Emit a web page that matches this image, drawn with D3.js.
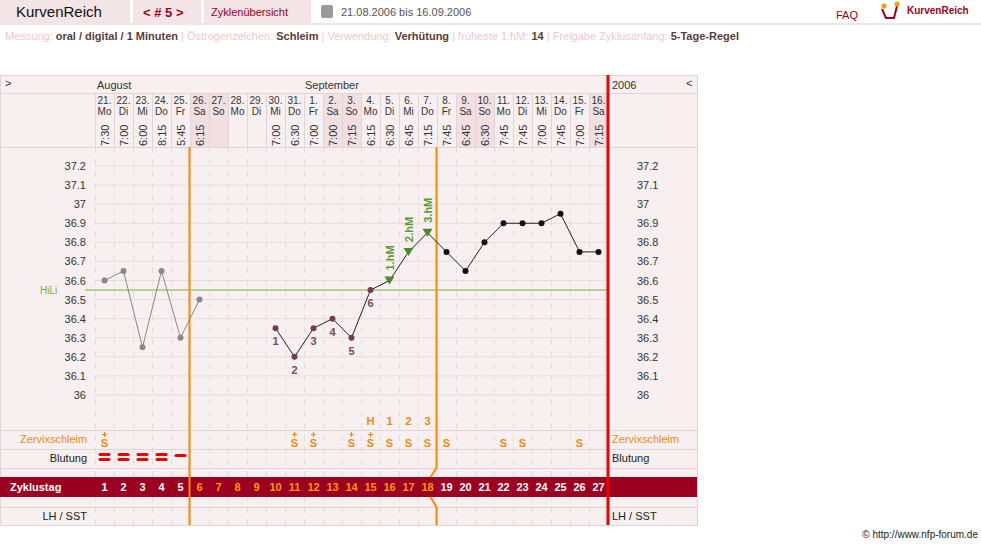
<!DOCTYPE html><html><head><meta charset="utf-8"><script src="https://cdn.jsdelivr.net/npm/d3@7"></script>
<style>body{margin:0;background:#fff;font-family:"Liberation Sans",Arial,sans-serif}</style></head><body><svg id="c" width="981" height="545"></svg>
<script>
const dates=["21.","22.","23.","24.","25.","26.","27.","28.","29.","30.","31.","1.","2.","3.","4.","5.","6.","7.","8.","9.","10.","11.","12.","13.","14.","15.","16."];
const wdays=["Mo","Di","Mi","Do","Fr","Sa","So","Mo","Di","Mi","Do","Fr","Sa","So","Mo","Di","Mi","Do","Fr","Sa","So","Mo","Di","Mi","Do","Fr","Sa"];
const times=["7:30","7:00","6:00","8:15","5:45","6:15","","","","7:00","6:30","7:00","7:00","7:15","6:15","6:30","6:45","7:15","7:45","6:45","6:30","7:45","7:45","7:00","7:45","7:00","7:15"];
const temps=[36.6,36.65,36.25,36.65,36.3,36.5,null,null,null,36.35,36.2,36.35,36.4,36.3,36.55,36.6,36.75,36.85,36.75,36.65,36.8,36.9,36.9,36.9,36.95,36.75,36.75];
const lowLabels={10:"1",11:"2",12:"3",13:"4",14:"5",15:"6"};
const highLabels={16:"1.hM",17:"2.hM",18:"3.hM"};
const mucus=["S+","","","","","","","","","","S+","S+","","S+","S+","S","S","S","S","","","S","S","","","S",""];
const bleed=[2,2,2,2,1];
const peak={15:"H",16:"1",17:"2",18:"3"};
const yTicks=[37.2,37.1,37,36.9,36.8,36.7,36.6,36.5,36.4,36.3,36.2,36.1,36];
const hili=36.55;
const svg=d3.select("#c");
const x=d3.scaleBand().domain(d3.range(1,28)).range([95,608]);
const y=d3.scaleLinear().domain([36,37.2]).range([395,166]);
const cx=d=>x(d)+x.bandwidth()/2;
const pink="#f8f0f0",line="#e0d4d4";
svg.append("rect").attr("x",0).attr("y",0).attr("width",981).attr("height",24).attr("fill","#fff");
[[0,130],[133,68],[204,107]].forEach(([a,w])=>svg.append("rect").attr("x",a).attr("y",0).attr("width",w).attr("height",23).attr("fill","#f3e4e6"));
svg.append("rect").attr("x",0).attr("y",23).attr("width",981).attr("height",2).attr("fill","#f3e4e6");
const t=(xx,yy,s,o)=>{const e=svg.append("text").attr("x",xx).attr("y",yy).text(s).attr("font-size",(o&&o.fs)||11).attr("fill",(o&&o.c)||"#333");if(o&&o.a)e.attr("text-anchor",o.a);if(o&&o.b)e.attr("font-weight","bold");return e;};
t(16,17,"KurvenReich",{fs:15,c:"#111"});
t(143,17,"< # 5 >",{fs:13,c:"#a00020",b:1});
t(211,16,"Zyklenübersicht",{fs:11,c:"#a00020"});
svg.append("rect").attr("x",321).attr("y",5).attr("width",12).attr("height",13).attr("fill","#999").attr("rx",2);
t(341,16,"21.08.2006 bis 16.09.2006",{fs:11,c:"#555"});
t(836,19,"FAQ",{fs:11,c:"#a00020"});
svg.append("path").attr("d","M882,9 L886,18 L894,18 L897,6").attr("stroke","#a00020").attr("fill","none").attr("stroke-width",2);
svg.append("circle").attr("cx",884).attr("cy",6).attr("r",2.5).attr("fill","#f90");
svg.append("circle").attr("cx",897).attr("cy",4).attr("r",2.5).attr("fill","#f90");
t(907,14,"KurvenReich",{fs:10,c:"#a00020",b:1});
const info=[["Messung:",1],["oral / digital / 1 Minuten",0],["|",1],["Östrogenzeichen:",1],["Schleim",0],["|",1],["Verwendung:",1],["Verhütung",0],["|",1],["früheste 1.hM:",1],["14",0],["|",1],["Freigabe Zyklusanfang:",1],["5-Tage-Regel",0]];
const it=svg.append("text").attr("x",5).attr("y",40).attr("font-size",11);
info.forEach(([s,l])=>it.append("tspan").text(s+"  ").attr("fill",l?"#f0c8cc":"#5b3b3b").attr("font-weight",l?"normal":"bold"));
svg.append("rect").attr("x",0.5).attr("y",75.5).attr("width",697).attr("height",450).attr("fill",pink).attr("stroke",line);
d3.range(1,28).filter(i=>wdays[i-1]=="Sa"||wdays[i-1]=="So").forEach(i=>svg.append("rect").attr("x",x(i)).attr("y",93).attr("width",x.bandwidth()).attr("height",54).attr("fill","#f1dfe1"));
[93,147,430,449,468,507].forEach(v=>svg.append("line").attr("x1",0).attr("x2",697).attr("y1",v+.5).attr("y2",v+.5).attr("stroke",line));
d3.range(1,28).forEach(i=>{svg.append("line").attr("x1",x(i)+.5).attr("x2",x(i)+.5).attr("y1",147).attr("y2",525).attr("stroke","#ddd").attr("stroke-dasharray","6,6");
 svg.append("line").attr("x1",x(i)+.5).attr("x2",x(i)+.5).attr("y1",93).attr("y2",147).attr("stroke",line);});
yTicks.forEach(v=>{svg.append("line").attr("x1",95).attr("x2",607).attr("y1",y(v)).attr("y2",y(v)).attr("stroke","#e6dede");
 t(86,y(v)+4,String(v),{a:"end",c:"#333"});t(637,y(v)+4,String(v),{c:"#333"});});
t(5,87,">",{c:"#333"});t(97,89,"August",{c:"#333"});t(305,89,"September",{c:"#333"});t(612,89,"2006",{c:"#333"});t(686,87,"<",{c:"#333"});
d3.range(1,28).forEach(i=>{t(cx(i),104,dates[i-1],{a:"middle",fs:10,c:"#333"});t(cx(i),115,wdays[i-1],{a:"middle",fs:10,c:"#333"});
 if(times[i-1])svg.append("text").attr("transform",`translate(${cx(i)+4},146) rotate(-90)`).text(times[i-1]).attr("font-size",11).attr("fill","#333");});
svg.append("line").attr("x1",85).attr("x2",607).attr("y1",y(hili)).attr("y2",y(hili)).attr("stroke","#7bb03c");
t(40,y(hili)+4,"HiLi",{fs:10,c:"#7bb03c"});
t(20,443,"Zervixschleim",{fs:11,c:"#f08a10"});t(612,443,"Zervixschleim",{fs:11,c:"#f08a10"});
t(87,462,"Blutung",{a:"end",c:"#222"});t(612,462,"Blutung",{c:"#222"});
svg.append("rect").attr("x",0).attr("y",477).attr("width",697).attr("height",20).attr("fill","#9b0020");
t(10,491,"Zyklustag",{c:"#fff",b:1});
t(87,520,"LH / SST",{a:"end",c:"#222"});t(612,520,"LH / SST",{c:"#222"});
d3.range(1,28).forEach(i=>{t(cx(i),491,String(i),{a:"middle",fs:11,b:1,c:(i>=6&&i<=18)?"#f90":"#fff"});
 const m=mucus[i-1];if(m){t(cx(i),447,"S",{a:"middle",fs:11,b:1,c:"#f08a10"});
  if(m=="S+")svg.append("path").attr("d",`M${cx(i)-2.5},434.5 h5 M${cx(i)},432 v5`).attr("stroke","#f08a10").attr("stroke-width",1.2);}
 if(peak[i])t(cx(i),425,peak[i],{a:"middle",fs:11,b:1,c:"#f08a10"});});
bleed.forEach((b,k)=>{const i=k+1;if(b==2){svg.append("rect").attr("x",cx(i)-6).attr("y",453).attr("width",12).attr("height",3).attr("rx",1.5).attr("fill","#e00");svg.append("rect").attr("x",cx(i)-6).attr("y",458).attr("width",12).attr("height",3).attr("rx",1.5).attr("fill","#e00");}
 else svg.append("rect").attr("x",cx(i)-6).attr("y",454).attr("width",12).attr("height",3).attr("rx",1.5).attr("fill","#e00");});
const xb=i=>x(i)-.5;
svg.append("line").attr("x1",xb(6)).attr("x2",xb(6)).attr("y1",147).attr("y2",525).attr("stroke","#f80").attr("stroke-width",2);
const x19=xb(19);
svg.append("path").attr("d",`M${x19},147 V468 L${x19-6},477 M${x19-6},497 L${x19},507 V525`).attr("stroke","#f80").attr("stroke-width",2).attr("fill","none");
svg.append("line").attr("x1",608).attr("x2",608).attr("y1",75).attr("y2",525).attr("stroke","#e00").attr("stroke-width",3);
const pts=temps.map((v,k)=>({d:k+1,v})).filter(p=>p.v!=null);
const lg=d3.line().x(p=>cx(p.d)).y(p=>y(p.v));
svg.append("path").attr("d",lg(pts.filter(p=>p.d<=6))).attr("stroke","#888").attr("fill","none");
svg.append("path").attr("d",lg(pts.filter(p=>p.d>=10&&p.d<=15))).attr("stroke","#222").attr("fill","none");
svg.append("path").attr("d",lg(pts.filter(p=>p.d>=15))).attr("stroke","#222").attr("fill","none");
pts.forEach(p=>{const X=cx(p.d),Y=y(p.v);
 if(highLabels[p.d]){svg.append("path").attr("d",`M${X-5},${Y-4} L${X+5},${Y-4} L${X},${Y+4}Z`).attr("fill","#4a8a2a");
  svg.append("text").attr("transform",`translate(${X+4},${Y-10}) rotate(-90)`).text(highLabels[p.d]).attr("font-size",11).attr("font-weight","bold").attr("fill","#5a9a30");}
 else{const col=p.d<=6?"#888":(p.d<=15?"#7a3a48":"#111");svg.append("circle").attr("cx",X).attr("cy",Y).attr("r",3).attr("fill",col);}
 if(lowLabels[p.d])t(X,Y+17,lowLabels[p.d],{a:"middle",fs:11,b:1,c:"#7a4a58"});});
t(978,538,"© http://www.nfp-forum.de",{a:"end",fs:10,c:"#222"});
</script></body></html>
